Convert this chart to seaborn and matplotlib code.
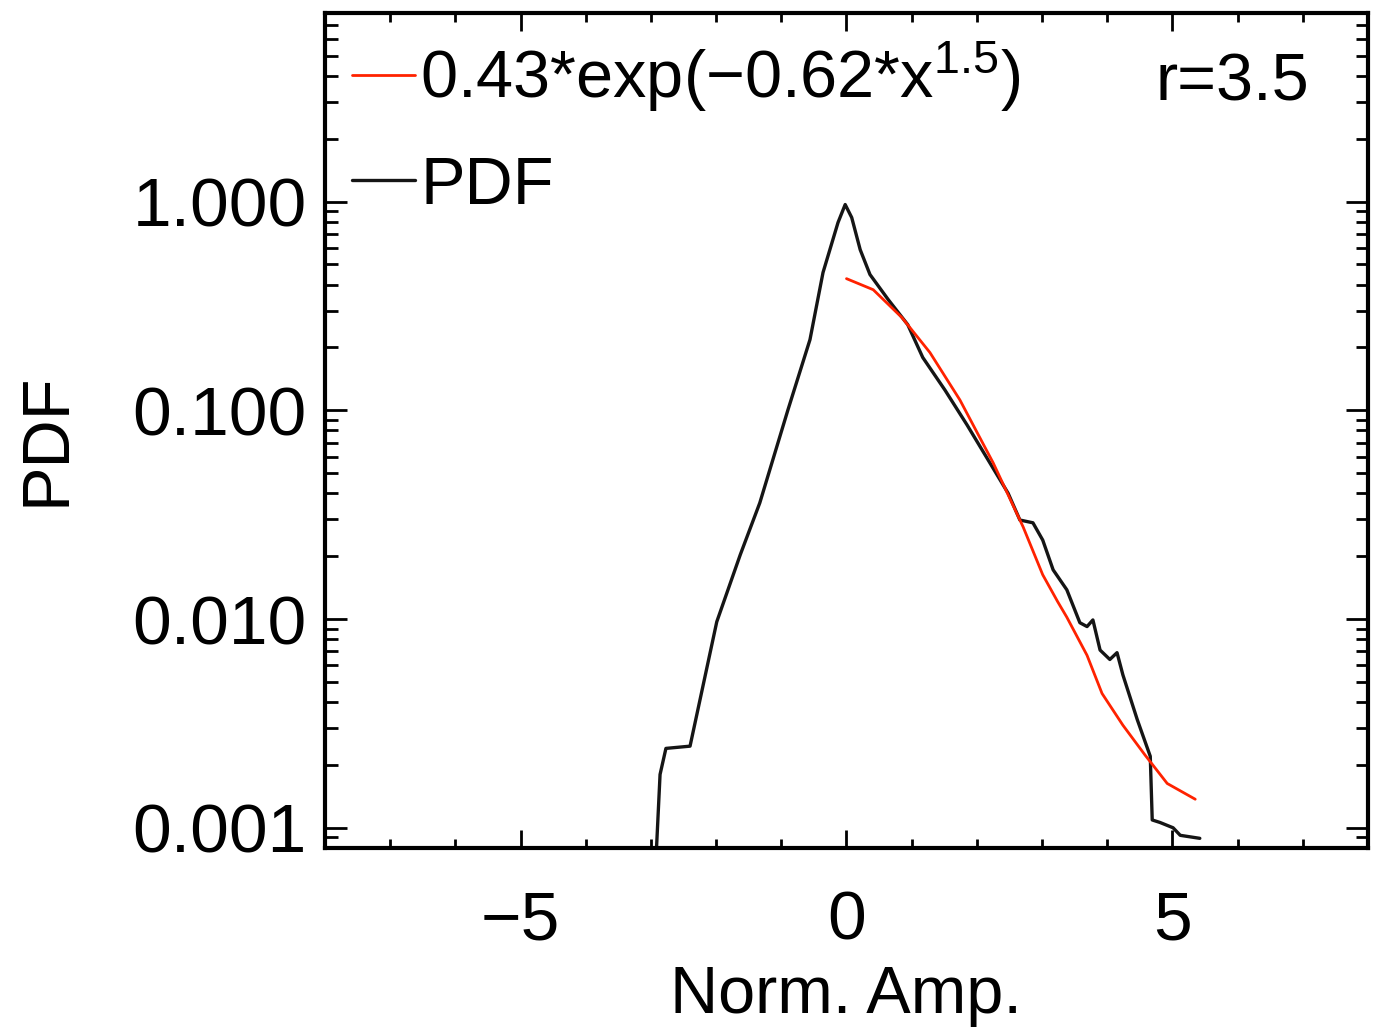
import numpy as np
import pandas as pd
import matplotlib
matplotlib.use("Agg")
import matplotlib.pyplot as plt
import seaborn as sns
from matplotlib.ticker import FixedLocator, LogLocator, FormatStrFormatter, NullFormatter, MultipleLocator

# ---- data ----
pdf_x = [-2.98, -2.86, -2.77, -2.40, -1.99, -1.63, -1.33, -0.90, -0.56, -0.36, -0.13, -0.02,
         0.08, 0.21, 0.36, 0.64, 0.94, 1.17, 1.51, 1.85, 2.17, 2.48, 2.66, 2.86, 3.01, 3.17,
         3.38, 3.58, 3.69, 3.78, 3.89, 4.04, 4.15, 4.24, 4.46, 4.66, 4.69, 4.81, 5.01, 5.12, 5.42]
pdf_y = [0.0003, 0.0018, 0.0024, 0.00246, 0.0097, 0.0203, 0.036, 0.100, 0.218, 0.457, 0.793, 0.967,
         0.838, 0.588, 0.447, 0.339, 0.257, 0.179, 0.125, 0.085, 0.058, 0.040, 0.0298, 0.0289, 0.0239, 0.0172,
         0.0138, 0.0096, 0.0092, 0.0099, 0.0071, 0.0064, 0.0069, 0.0054, 0.0033, 0.0022, 0.00109, 0.00106,
         0.00100, 0.00092, 0.00089]

fit_x = [0.0, 0.41, 0.85, 1.28, 1.74, 2.25, 2.71, 3.01, 3.24, 3.38, 3.69, 3.92, 4.24, 4.58, 4.92, 5.35]
fit_y = [0.427, 0.378, 0.278, 0.189, 0.112, 0.056, 0.0276, 0.0163, 0.0121, 0.0102, 0.0067, 0.0044,
         0.0031, 0.00223, 0.00163, 0.00137]

y_ticks = [0.001, 0.01, 0.1, 1.0]
x_ticks = [-5, 0, 5]
fit_label = "0.43*exp(\u22120.62*$\\mathregular{x^{1.5}}$)"
pdf_label = "PDF"
r_label = "r=3.5"
x_label = "Norm. Amp."
y_label = "PDF"

# ---- style ----
sns.set_theme(style="ticks")
plt.rcParams["font.family"] = ["Liberation Sans", "DejaVu Sans"]
plt.rcParams["mathtext.fontset"] = "custom"
plt.rcParams["mathtext.rm"] = "Liberation Sans"
plt.rcParams["axes.unicode_minus"] = True
for k in ["text.color", "axes.labelcolor", "xtick.color", "ytick.color", "axes.edgecolor"]:
    plt.rcParams[k] = "black"

FS = 48
fig = plt.figure(figsize=(13.8, 10.3), dpi=100)
ax = fig.add_axes([0.2355, 0.1767, 0.7558, 0.8107])

pdf_df = pd.DataFrame({"x": pdf_x, "y": pdf_y})
fit_df = pd.DataFrame({"x": fit_x, "y": fit_y})

sns.lineplot(data=pdf_df, x="x", y="y", ax=ax, color="#151515", lw=2.4,
             sort=False, estimator=None, label=pdf_label)
sns.lineplot(data=fit_df, x="x", y="y", ax=ax, color="#ff2200", lw=2.0,
             sort=False, estimator=None, label=fit_label)

ax.set_yscale("log")
ax.set_xlim(-8, 8)
ax.set_ylim(0.0008, 8.0)

ax.xaxis.set_major_locator(FixedLocator(x_ticks))
ax.xaxis.set_minor_locator(MultipleLocator(1))
ax.yaxis.set_major_locator(FixedLocator(y_ticks))
ax.yaxis.set_minor_locator(LogLocator(base=10, subs=np.arange(2, 10)))
ax.yaxis.set_major_formatter(FormatStrFormatter("%.3f"))
ax.yaxis.set_minor_formatter(NullFormatter())

ax.tick_params(axis="both", which="both", direction="in", top=True, right=True,
               colors="black", labelsize=50)
ax.tick_params(axis="x", which="major", length=13, width=2, pad=30)
ax.tick_params(axis="x", which="minor", length=6.5, width=2)
ax.tick_params(axis="y", which="major", length=16, width=2, pad=13)
ax.tick_params(axis="y", which="minor", length=9, width=2)

for s in ax.spines.values():
    s.set_linewidth(3)
    s.set_color("black")

ax.set_xlabel(x_label, fontsize=FS)
ax.set_ylabel(y_label, fontsize=FS)
ax.xaxis.set_label_coords(0.5, -0.140)
ax.yaxis.set_label_coords(-0.236, 0.489)

handles, labels = ax.get_legend_handles_labels()
leg = ax.legend(handles[::-1], labels[::-1], loc="upper left", bbox_to_anchor=(0.0, 1.0),
                frameon=False, fontsize=FS, handlelength=0.95, handletextpad=0.08,
                labelspacing=0.62, borderaxespad=0.1, borderpad=0.3)

ax.text(0.944, 0.916, r_label, transform=ax.transAxes, ha="right", va="center", fontsize=FS)

fig.savefig("out.png", dpi=100, facecolor="white")
